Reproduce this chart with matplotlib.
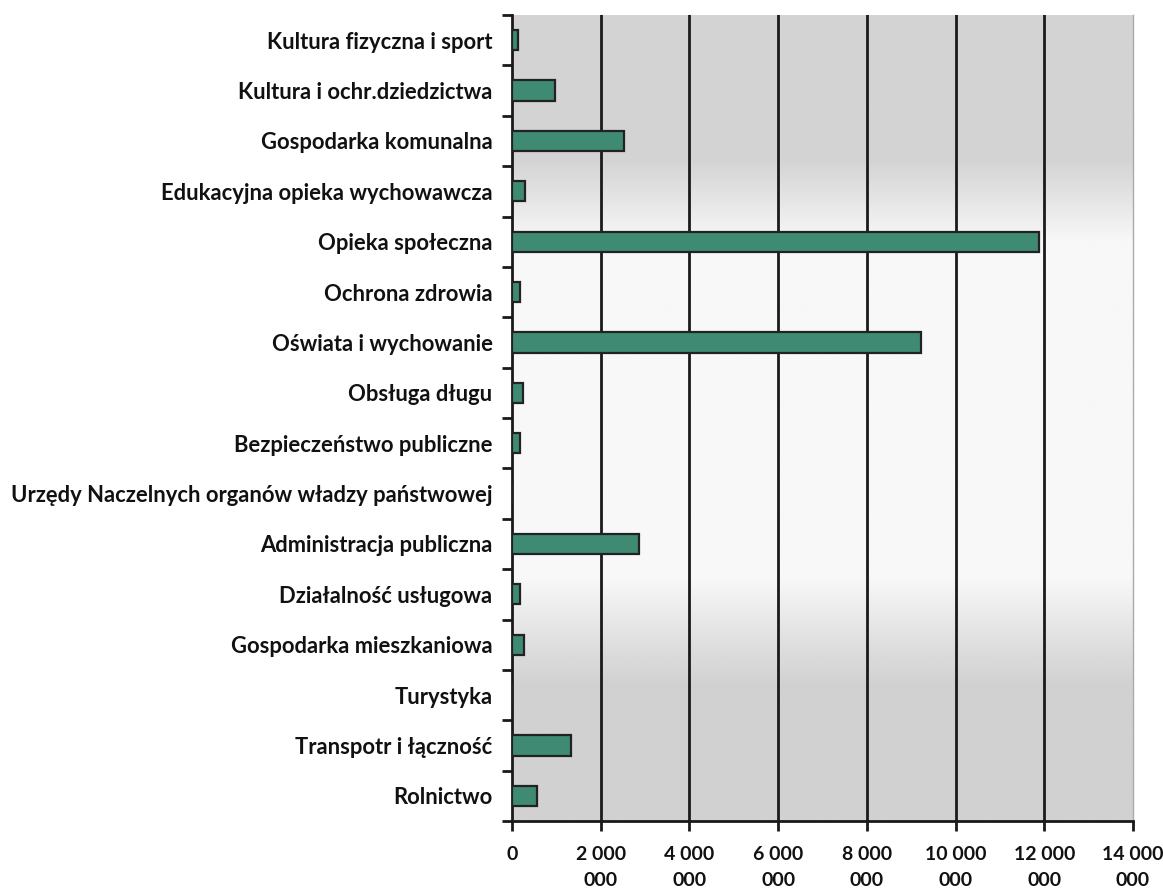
import numpy as np
import matplotlib
matplotlib.use("Agg")
import matplotlib.pyplot as plt
from matplotlib.ticker import FixedLocator, FuncFormatter

categories = [
    "Rolnictwo",
    "Transpotr i łączność",
    "Turystyka",
    "Gospodarka mieszkaniowa",
    "Działalność usługowa",
    "Administracja publiczna",
    "Urzędy Naczelnych organów władzy państwowej",
    "Bezpieczeństwo publiczne",
    "Obsługa długu",
    "Oświata i wychowanie",
    "Ochrona zdrowia",
    "Opieka społeczna",
    "Edukacyjna opieka wychowawcza",
    "Gospodarka komunalna",
    "Kultura i ochr.dziedzictwa",
    "Kultura fizyczna i sport",
]
values = [560000, 1330000, 0, 280000, 170000, 2860000, 0, 190000, 250000,
          9230000, 170000, 11880000, 290000, 2530000, 980000, 140000]
x_ticks = [0, 2000000, 4000000, 6000000, 8000000, 10000000, 12000000, 14000000]

plt.rcParams['font.family'] = ['Lato', 'DejaVu Sans']

fig = plt.figure(figsize=(11.63, 8.92), dpi=100)
ax = fig.add_axes([512/1163, 1-821/892, (1133-512)/1163, (821-15)/892])

n = len(categories)
ax.set_xlim(0, 14000000)
ax.set_ylim(-0.5, n - 0.5)

# background gradient (top gray, white middle, bottom gray)
ys = np.linspace(0, 1, 300)
g = (0.97
     - 0.14 * np.clip((ys - 0.72) / 0.10, 0, 1)
     - 0.15 * np.clip((0.30 - ys) / 0.13, 0, 1))
grad = np.repeat(g[:, None], 2, axis=1)
ax.imshow(grad, extent=[0, 14000000, -0.5, n - 0.5], origin='lower', aspect='auto',
          cmap='gray', vmin=0, vmax=1, zorder=0)

for xv in x_ticks[1:-1]:
    ax.axvline(xv, color='#1a1a1a', lw=2, zorder=1)

ypos = np.arange(n)
ax.barh(ypos, values, height=0.4, color='#3f8a72', edgecolor='#222222', linewidth=1.6, zorder=3)

ax.set_yticks(ypos)
ax.set_yticklabels(categories, fontsize=15.8, fontweight='bold', color='#111111')
ax.yaxis.set_minor_locator(FixedLocator(np.arange(-0.5, n, 1.0)))
ax.tick_params(axis='y', which='major', length=0, pad=14)
ax.tick_params(axis='y', which='minor', length=7, width=2, color='#1a1a1a')

def fmt(v, pos):
    if v == 0:
        return "0"
    s = f"{int(v):,}".replace(",", " ")
    head, tail = s[:-4], s[-3:]
    return head + "\n" + tail

ax.set_xticks(x_ticks)
ax.xaxis.set_major_formatter(FuncFormatter(fmt))
ax.tick_params(axis='x', length=7, width=2, color='#1a1a1a', labelsize=14, pad=11)
for lab in ax.get_xticklabels():
    lab.set_fontweight('bold')
    lab.set_linespacing(1.65)
    lab.set_color('#111111')

for s in ['left', 'bottom']:
    ax.spines[s].set_linewidth(2)
    ax.spines[s].set_color('#1a1a1a')
ax.spines['top'].set_visible(False)
ax.spines['right'].set_color('#aaaaaa')
ax.spines['right'].set_linewidth(1)

fig.savefig("out.png", dpi=100, facecolor='white')
